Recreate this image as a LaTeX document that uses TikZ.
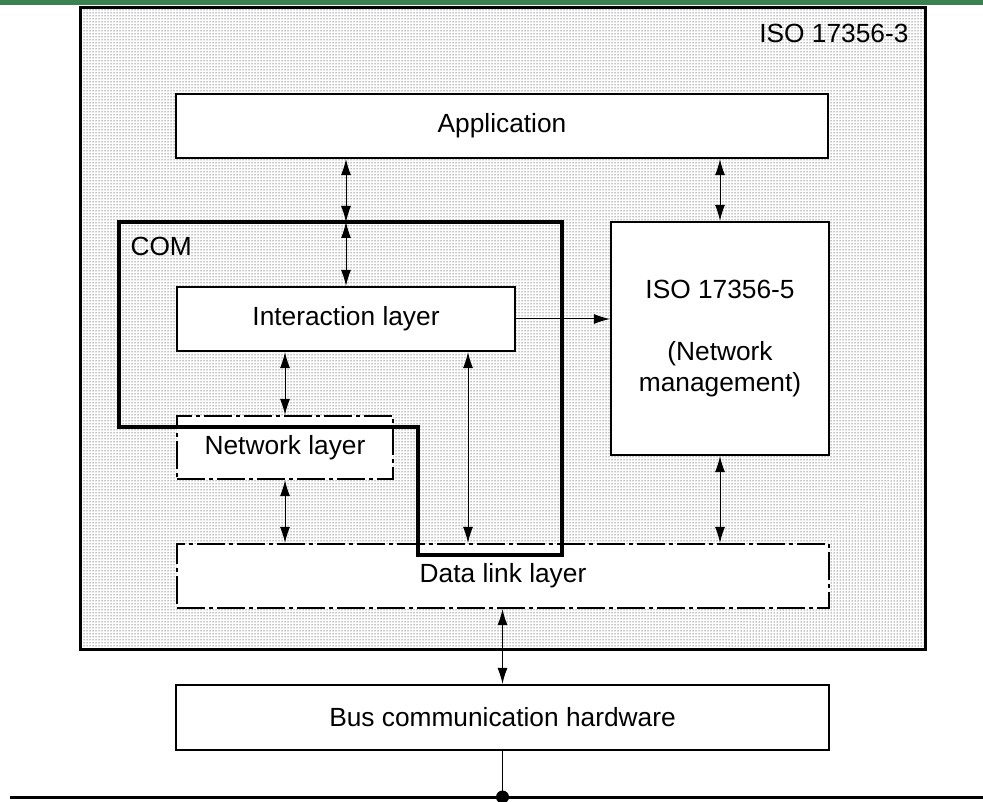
\documentclass[tikz,border=0pt]{standalone}
\usepackage{fontspec}
\setmainfont{Liberation Sans}
\usepackage{tikz}
\usetikzlibrary{arrows.meta,positioning,calc,patterns}
\definecolor{isogreen}{RGB}{58,130,80}

\begin{document}
\begin{tikzpicture}[
    x=1pt, y=-1pt,
    font=\fontsize{26.3}{31}\selectfont,
    box/.style={rectangle, draw=black, fill=white, line width=2.2pt, align=center, inner sep=0pt},
    dashbox/.style={box, dash pattern=on 28pt off 4pt on 4pt off 4pt},
    dbl/.style={{Latex[length=16pt,width=10pt]}-{Latex[length=16pt,width=10pt]}, line width=1pt},
    sgl/.style={-{Latex[length=16pt,width=10pt]}, line width=1pt},
    comline/.style={line width=4.5pt, line join=miter},
    >=Latex
]
\useasboundingbox (0,0) rectangle (983,802);
\fill[isogreen] (0,0) rectangle (983,5);

\node[draw=black, line width=3pt, pattern=dots, pattern color=black,
    minimum width=845pt, minimum height=641pt, inner sep=0pt] (iso3) at (502.5,328.5) {};
\node[anchor=east] (iso3lbl) at (912,33) {ISO 17356-3};

\node[box, minimum width=652pt, minimum height=64pt] (app) at (502,126) {Application};
\node[box, minimum width=338pt, minimum height=64pt] (ia) at (346,319) {Interaction layer};
\node[box, minimum width=218pt, minimum height=233pt] (nm) at (720,338.5)
    {ISO 17356-5\\[31pt](Network\\management)};
\node[dashbox, minimum width=216pt, minimum height=63pt] (nl) at (285,447.5) {Network layer};
\node[dashbox, minimum width=652pt, minimum height=64pt] (dl) at (503,576) {Data link layer};
\node[box, minimum width=653pt, minimum height=65pt] (bus) at (502.5,717.5) {Bus communication hardware};

\coordinate (comtop) at (346,222);
\coordinate (iax) at (468,0);
\coordinate (junction) at (502.5,797);

\draw[dbl] (app.south -| ia.north) -- (comtop);
\draw[dbl] (comtop) -- (ia.north);
\draw[dbl] (app.south -| nm.north) -- (nm.north);
\draw[sgl] (ia.east) -- (nm.west |- ia.east);
\draw[dbl] (ia.south -| nl.north) -- (nl.north);
\draw[dbl] (ia.south -| iax) -- (dl.north -| iax);
\draw[dbl] (nl.south) -- (dl.north -| nl.south);
\draw[dbl] (nm.south) -- (dl.north -| nm.south);
\draw[dbl] (dl.south -| bus.north) -- (bus.north);

\draw[comline] (119,222) -- (562,222) -- (562,555) -- (418,555) -- (418,427) -- (119,427) -- cycle;
\node[anchor=west] (comlbl) at (127,246) {COM};

\draw[line width=1pt] (bus.south) -- (junction);
\draw[line width=3pt] (10,797) -- (983,797);
\fill (junction) circle (6.5pt);
\end{tikzpicture}
\end{document}
